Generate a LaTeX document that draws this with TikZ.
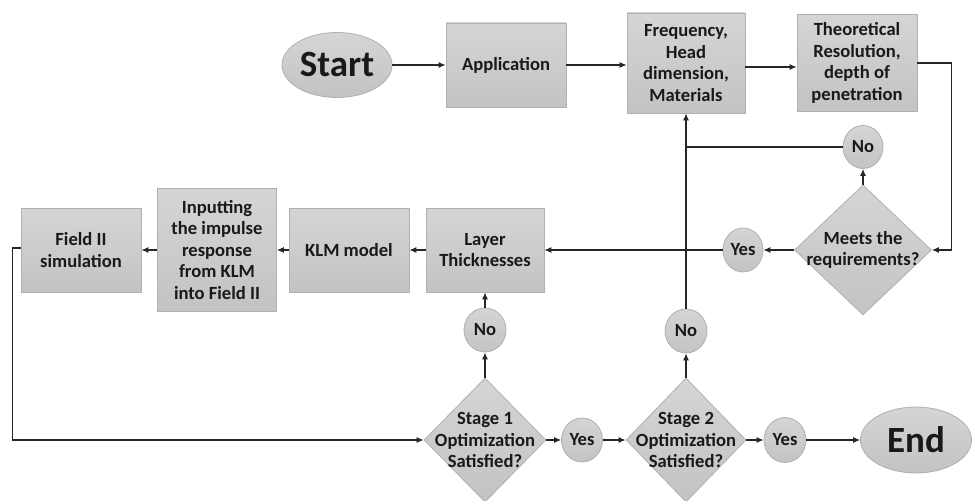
\documentclass[tikz,border=0pt]{standalone}
\usepackage{fontspec}
\setmainfont{Carlito}
\usetikzlibrary{shapes.geometric,arrows.meta}
\newcommand{\flowfont}{\bfseries\fontsize{18.6}{21.5}\selectfont}
\tikzset{
  base/.style={top color=gray!33, bottom color=gray!47, draw=gray!62, line width=0.8pt, text=black!90,
    font=\flowfont, align=center},
  box/.style={base, rectangle, inner sep=2pt},
  dia/.style={base, diamond, inner sep=0pt, aspect=1},
  oval/.style={base, ellipse, inner sep=0pt},
  term/.style={base, ellipse, inner sep=0pt, font=\bfseries\fontsize{37}{40}\selectfont},
  lab/.style={font=\flowfont, text=black!90, align=center},
  arr/.style={line width=1.1pt, draw=black!85, -{Latex[length=7pt,width=6pt]}},
  ln/.style={line width=1.1pt, draw=black!85},
}
\begin{document}
\begin{tikzpicture}[x=1pt,y=-1pt]
\useasboundingbox (0,0) rectangle (973,500);
% top row
\node[term, minimum width=110pt, minimum height=65pt] (start) at (337,65) {Start};
\node[box, minimum width=120pt, minimum height=84pt] (app) at (506,65) {Application};
\node[box, minimum width=118pt, minimum height=100pt] (freq) at (686,63) {Frequency,\\Head\\dimension,\\Materials};
\node[box, minimum width=120pt, minimum height=97pt] (theo) at (857,63) {Theoretical\\Resolution,\\depth of\\penetration};
% middle
\node[dia, minimum width=137pt, minimum height=130pt, label={[lab]center:Meets the\\requirements?}] (meets) at (863,250) {};
\node[oval, minimum width=40pt, minimum height=43pt] (no1) at (863,147) {No};
\node[oval, minimum width=40pt, minimum height=44pt] (yes1) at (743,250) {Yes};
\node[box, minimum width=118pt, minimum height=84pt] (layer) at (485,250) {Layer\\Thicknesses};
\node[box, minimum width=120pt, minimum height=84pt] (klm) at (349,250) {KLM model};
\node[box, minimum width=119pt, minimum height=123pt] (inp) at (217,250) {Inputting\\the impulse\\response\\from KLM\\into Field II};
\node[box, minimum width=120pt, minimum height=84pt] (field) at (81,250) {Field II\\simulation};
% bottom
\node[dia, minimum width=122pt, minimum height=124pt, label={[lab]center:Stage 1\\Optimization\\Satisfied?}] (s1) at (485,440) {};
\node[oval, minimum width=42pt, minimum height=44pt] (no3) at (485,330) {No};
\node[oval, minimum width=41pt, minimum height=44pt] (yes2) at (582,440) {Yes};
\node[dia, minimum width=120pt, minimum height=124pt, label={[lab]center:Stage 2\\Optimization\\Satisfied?}] (s2) at (686,440) {};
\node[oval, minimum width=42pt, minimum height=44pt] (no2) at (686,331) {No};
\node[oval, minimum width=42pt, minimum height=45pt] (yes3) at (785,440) {Yes};
\node[term, minimum width=111pt, minimum height=66pt] (end) at (916,440) {End};
% connectors
\draw[arr] (start) -- (app);
\draw[arr] (app.east) -- (app.east -| freq.west);
\draw[arr] ([yshift=-4pt]freq.east) -- ([yshift=-4pt]freq.east -| theo.west);
\draw[arr] (theo.east) -- ++(34,0) |- (meets.east);
\draw[arr] (meets.north) -- (no1.south);
\draw[ln] (no1.west) -- (no1.west -| freq.south);
\draw[arr] (no2.north) -- (freq.south);
\draw[arr] (meets.west) -- (yes1.east);
\draw[arr] (yes1.west) -- (yes1.west -| layer.east);
\draw[arr] (layer) -- (klm);
\draw[arr] (klm) -- (inp);
\draw[arr] (inp) -- (field);
\draw[arr] ([yshift=2pt]field.west) -- ++(-8,0) |- (s1.west);
\draw[arr] (s1.north) -- (no3.south);
\draw[arr] (no3.north) -- (layer.south);
\draw[arr] (s1) -- (yes2);
\draw[arr] (yes2) -- (s2);
\draw[arr] (s2.north) -- (no2.south);
\draw[arr] (s2) -- (yes3);
\draw[arr] (yes3) -- (end);
\end{tikzpicture}
\end{document}
